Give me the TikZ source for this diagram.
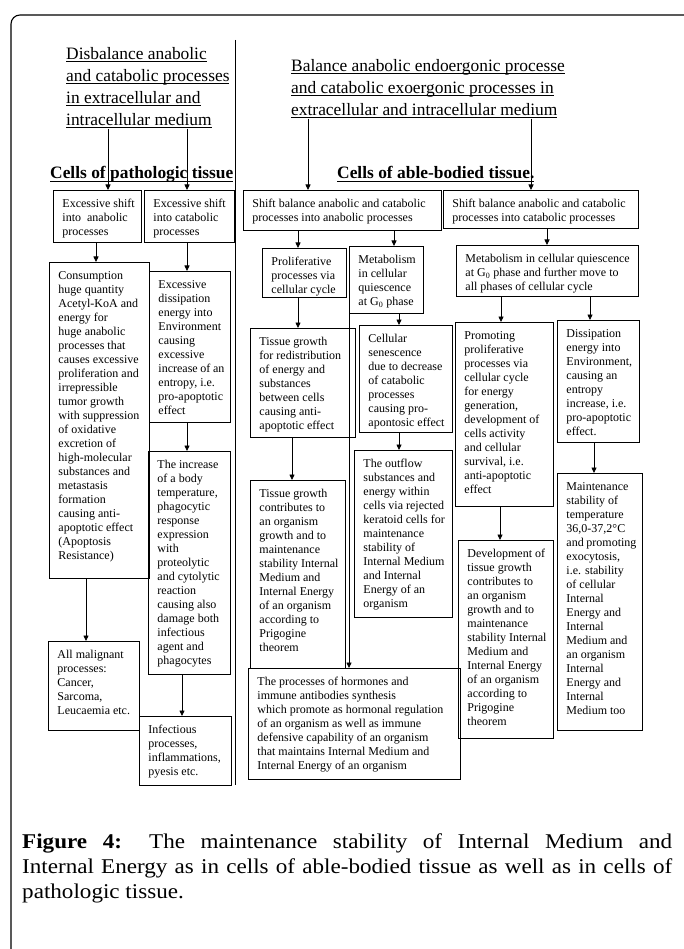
\documentclass[tikz,border=0pt]{standalone}
\usepackage{fontspec}
\setmainfont{Liberation Serif}
\newfontfamily\capfont[FakeStretch=1.1]{Liberation Serif}
\usetikzlibrary{arrows.meta}
\newsavebox\ulxbox
\newcommand\ulx[1]{\sbox\ulxbox{#1}\rlap{\rule[-3.2pt]{\wd\ulxbox}{0.9pt}}\usebox\ulxbox}
% box text: width, height (px), text; top aligned
\newcommand\cb[3]{\parbox[c][\dimexpr#2pt-14pt\relax][t]{\dimexpr#1pt-12pt\relax}{\raggedright\leftskip=3pt\strut#3}}
\tikzset{
  cell/.style={draw, line width=0.9pt, anchor=north west, inner xsep=6pt, inner ysep=7pt,
               font=\fontsize{12}{14}\selectfont},
  arr/.style={-{Triangle[length=5.5pt,width=5pt]}, line width=0.8pt},
  ttl/.style={anchor=north west, inner sep=0pt, font=\fontsize{17.4}{22}\selectfont},
  head/.style={anchor=base west, inner sep=0pt, font=\fontsize{17.4}{22}\selectfont\bfseries},
}
\begin{document}
\begin{tikzpicture}[x=1pt,y=-1pt]
\useasboundingbox (0,0) rectangle (683,949);
% frame
\draw[line width=1.1pt, rounded corners=9pt] (11,960) -- (11,15) -- (700,15);
% divider
\draw[line width=1pt] (235,40) -- (235,785);

% titles
\node[ttl] (tl) at (66,43.6) {\parbox[t]{168pt}{\strut\ulx{Disbalance anabolic}\\\ulx{and catabolic processes}\\\ulx{in extracellular and}\\\ulx{intracellular medium}}};
\node[ttl] (tr) at (291,55.6) {\parbox[t]{280pt}{\strut\ulx{Balance anabolic endoergonic processe}\\\ulx{and catabolic exoergonic processes in}\\\ulx{extracellular and intracellular medium}}};
\node[head] (hl) at (50,179) {\ulx{Cells of pathologic tissue}};
\node[head] (hr) at (337,179) {\ulx{Cells of able-bodied tissue.}};

% left column
\node[cell] (B1) at (53,190) {\cb{88}{52}{Excessive shift\\into~ anabolic\\processes}};
\node[cell] (B2) at (144,190) {\cb{90}{52}{Excessive shift\\into catabolic\\processes}};
\node[cell] (B3) at (49,262) {\cb{100}{316}{Consumption\\huge quantity\\Acetyl-KoA and\\energy for\\huge anabolic\\processes that\\causes excessive\\proliferation and\\irrepressible\\tumor growth\\with suppression\\of oxidative\\excretion of\\high-molecular\\substances and\\metastasis\\formation\\causing anti-\\apoptotic effect\\(Apoptosis\\Resistance)}};
\node[cell] (B4) at (149,271) {\cb{81}{151}{Excessive\\dissipation\\energy into\\Environment\\causing\\excessive\\increase of an\\entropy, i.e.\\pro-apoptotic\\effect}};
\node[cell] (B5) at (148,451) {\cb{82}{223}{The increase\\of a body\\temperature,\\phagocytic\\response\\expression\\with\\proteolytic\\and cytolytic\\reaction\\causing also\\damage both\\infectious\\agent and\\phagocytes}};
\node[cell] (B6) at (48,641) {\cb{91}{89}{All malignant\\processes:\\Cancer,\\Sarcoma,\\Leucaemia etc.}};
\node[cell] (B7) at (139,716) {\cb{92}{69}{Infectious\\processes,\\inflammations,\\pyesis etc.}};

% middle column
\node[cell] (M1) at (243,190) {\cb{198}{40}{Shift balance anabolic and catabolic\\processes into anabolic processes}};
\node[cell] (M2) at (262,248) {\cb{84}{49}{Proliferative\\processes via\\cellular cycle}};
\node[cell] (M3) at (349,246) {\cb{74}{67}{Metabolism\\in cellular\\quiescence\\at G\textsubscript{0} phase}};
\node[cell] (M4) at (250,328) {\cb{105}{109}{Tissue growth\\for redistribution\\of energy and\\substances\\between cells\\causing anti-\\apoptotic effect}};
\node[cell] (M5) at (359,325) {\cb{93}{107}{Cellular\\senescence\\due to decrease\\of catabolic\\processes\\causing pro-\\apontosic effect}};
\node[cell] (M6) at (250,480) {\cb{95}{188}{Tissue growth\\contributes to\\an organism\\growth and to\\maintenance\\stability Internal\\Medium and\\Internal Energy\\of an organism\\according to\\Prigogine\\theorem}};
\node[cell] (M7) at (354,450) {\cb{98}{167}{The outflow\\substances and\\energy within\\cells via rejected\\keratoid cells for\\maintenance\\stability of\\Internal Medium\\and Internal\\Energy of an\\organism}};
\node[cell] (M8) at (248,668) {\cb{212}{111}{The processes of hormones and\\immune antibodies synthesis\\which promote as hormonal regulation\\of an organism as well as immune\\defensive capability of an organism\\that maintains Internal Medium and\\Internal Energy of an organism}};

% right column
\node[cell] (R1) at (443,190) {\cb{195}{38}{Shift balance anabolic and catabolic\\processes into catabolic processes}};
\node[cell] (R2) at (456,245) {\cb{182}{51}{Metabolism in cellular quiescence\\at G\textsubscript{0} phase and further move to\\all phases of cellular cycle}};
\node[cell] (R3) at (455,322) {\cb{98}{184}{Promoting\\proliferative\\processes via\\cellular cycle\\for energy\\generation,\\development of\\cells activity\\and cellular\\survival, i.e.\\anti-apoptotic\\effect}};
\node[cell] (R4) at (557,320) {\cb{82}{122}{Dissipation\\energy into\\Environment,\\causing an\\entropy\\increase, i.e.\\pro-apoptotic\\effect.}};
\node[cell] (R5) at (458,540) {\cb{95}{198}{Development of\\tissue growth\\contributes to\\an organism\\growth and to\\maintenance\\stability Internal\\Medium and\\Internal Energy\\of an organism\\according to\\Prigogine\\theorem}};
\node[cell] (R6) at (557,473) {\cb{85}{257}{Maintenance\\stability of\\temperature\\36,0-37,2°C\\and promoting\\exocytosis,\\i.e. stability\\of cellular\\Internal\\Energy and\\Internal\\Medium and\\an organism\\Internal\\Energy and\\Internal\\Medium too}};

% arrows
\draw[arr] (tl.south -| 108,0) -- (B1.north -| 108,0);
\draw[arr] (tl.south -| 187,0) -- (B2.north -| 187,0);
\draw[arr] (tr.south -| 308,0) -- (M1.north -| 308,0);
\draw[arr] (tr.south -| 531,0) -- (R1.north -| 531,0);
\draw[arr] (B1.south -| 96,0) -- (B3.north -| 96,0);
\draw[arr] (B2.south -| 187,0) -- (B4.north -| 187,0);
\draw[arr] (B4.south -| 187,0) -- (B5.north -| 187,0);
\draw[arr] (B3.south -| 86,0) -- (B6.north -| 86,0);
\draw[arr] (B5.south -| 182,0) -- (B7.north -| 182,0);
\draw[arr] (M1.south -| 298,0) -- (M2.north -| 298,0);
\draw[arr] (M1.south -| 394,0) -- (M3.north -| 394,0);
\draw[arr] (M2.south -| 298,0) -- (M4.north -| 298,0);
\draw[arr] (M3.south -| 399,0) -- (M5.north -| 399,0);
\draw[arr] (M4.south -| 292,0) -- (M6.north -| 292,0);
\draw[arr] (M5.south -| 399,0) -- (M7.north -| 399,0);
\draw[arr] (M3.south west) -- (M3.south west |- M8.north);
\draw[arr] (R1.south -| 547,0) -- (R2.north -| 547,0);
\draw[arr] (R2.south -| 501,0) -- (R3.north -| 501,0);
\draw[arr] (R2.south -| 590,0) -- (R4.north -| 590,0);
\draw[arr] (R4.south -| 594,0) -- (R6.north -| 594,0);
\draw[arr] (R3.south -| 500,0) -- (R5.north -| 500,0);

% caption
\node[anchor=north west, inner sep=0pt, font=\capfont\fontsize{21}{25}\selectfont] (cap) at (22,830.5)
  {\parbox[t]{650pt}{\strut\textbf{Figure 4:} The maintenance stability of Internal Medium and\linebreak Internal Energy as in cells of able-bodied tissue as well as in cells of\linebreak pathologic tissue.}};
\end{tikzpicture}
\end{document}
